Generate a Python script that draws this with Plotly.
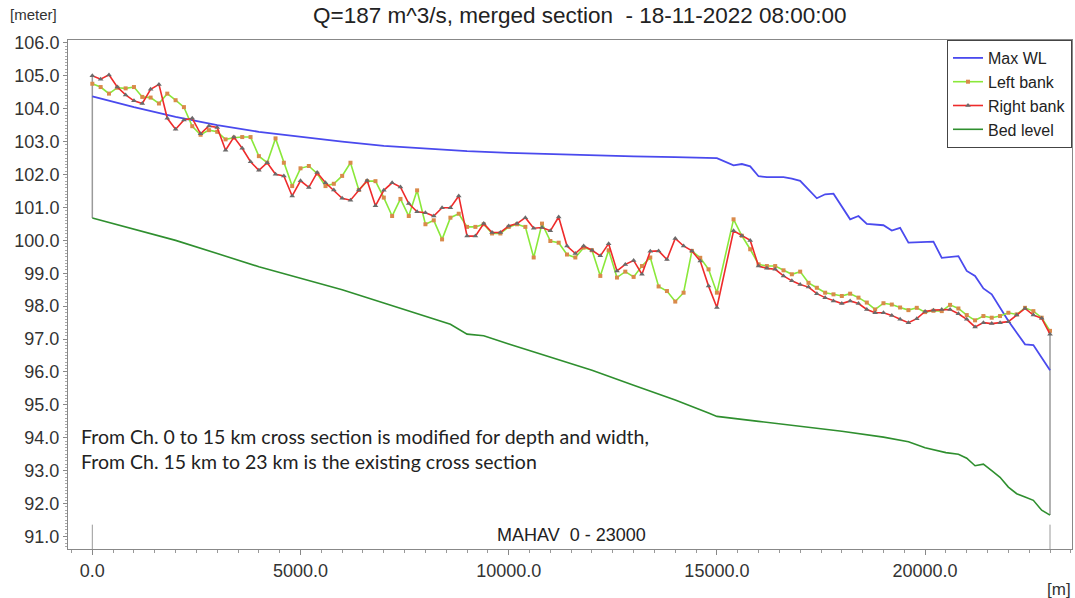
import plotly.graph_objects as go

# ---------------- data ----------------
bank_chainage = [0, 200, 400, 600, 800, 1000, 1200, 1400, 1600, 1800, 2000, 2200, 2400, 2600, 2800,
                 3000, 3200, 3400, 3600, 3800, 4000, 4200, 4400, 4600, 4800, 5000, 5200, 5400, 5600, 5800,
                 6000, 6200, 6400, 6600, 6800, 7000, 7200, 7400, 7600, 7800, 8000, 8200, 8400, 8600, 8800,
                 9000, 9200, 9400, 9600, 9800, 10000, 10200, 10400, 10600, 10800, 11000, 11200, 11400, 11600, 11800,
                 12000, 12200, 12400, 12600, 12800, 13000, 13200, 13400, 13600, 13800, 14000, 14200, 14400, 14600, 14800,
                 15000, 15400, 15600, 15800, 16000, 16200, 16400, 16600, 16800, 17000, 17200, 17400, 17600, 17800,
                 18000, 18200, 18400, 18600, 18800, 19000, 19200, 19400, 19600, 19800, 20000, 20200, 20400, 20600, 20800,
                 21000, 21200, 21400, 21600, 21800, 22000, 22200, 22400, 22600, 22800, 23000]

left_bank = [104.76, 104.66, 104.46, 104.64, 104.62, 104.66, 104.36, 104.34, 104.16, 104.46, 104.26, 104.05, 103.47, 103.21, 103.35,
             103.30, 103.07, 103.12, 103.14, 103.14, 102.56, 102.36, 103.10, 102.36, 101.65, 102.19, 102.26, 102.03, 101.65, 101.72,
             101.96, 102.36, 101.53, 101.80, 101.80, 101.30, 100.74, 101.26, 100.74, 101.52, 100.49, 100.61, 100.03, 100.69, 100.81,
             100.41, 100.41, 100.49, 100.21, 100.21, 100.41, 100.49, 100.41, 99.48, 100.51, 99.98, 99.93, 99.57, 99.48, 99.78,
             99.70, 98.92, 99.70, 98.87, 99.05, 98.89, 99.22, 99.48, 98.60, 98.46, 98.14, 98.41, 99.68, 99.47, 99.12,
             98.41, 100.64, 100.14, 99.73, 99.27, 99.22, 99.22, 99.09, 98.97, 99.05, 98.71, 98.56, 98.41, 98.36,
             98.31, 98.38, 98.26, 98.11, 97.90, 98.09, 98.05, 97.96, 97.88, 97.95, 97.82, 97.86, 97.85, 98.04, 97.93,
             97.73, 97.57, 97.70, 97.65, 97.70, 97.80, 97.75, 97.95, 97.85, 97.65, 97.25]

right_bank = [105.00, 104.90, 105.03, 104.66, 104.42, 104.24, 104.16, 104.59, 104.74, 103.71, 103.38, 103.66, 103.71, 103.24, 103.48,
              103.43, 102.74, 103.14, 102.80, 102.39, 102.13, 102.36, 102.01, 101.96, 101.35, 101.81, 101.61, 102.06, 101.75, 101.53,
              101.28, 101.22, 101.53, 101.82, 101.05, 101.52, 101.75, 101.62, 101.12, 100.87, 100.84, 100.74, 100.99, 100.99, 101.35,
              100.13, 100.13, 100.51, 100.24, 100.24, 100.44, 100.51, 100.69, 100.37, 100.39, 100.29, 100.71, 99.83, 99.60, 99.83,
              99.70, 99.53, 99.90, 99.07, 99.27, 99.39, 98.97, 99.67, 99.68, 99.42, 100.06, 99.83, 99.68, 99.37, 98.61,
              97.96, 100.29, 100.14, 100.00, 99.22, 99.15, 99.12, 98.92, 98.77, 98.66, 98.58, 98.38, 98.26, 98.16,
              98.08, 98.16, 98.08, 97.90, 97.80, 97.80, 97.72, 97.60, 97.50, 97.62, 97.84, 97.88, 97.90, 97.90, 97.77,
              97.60, 97.37, 97.50, 97.47, 97.50, 97.53, 97.73, 97.93, 97.73, 97.63, 97.15]

maxwl_chainage = [0, 1000, 2000, 3000, 4000, 5000, 6000, 7000, 8000, 9000, 10000, 11000, 12000, 13000, 14000,
                  14800, 15000, 15400, 15600, 15800, 16000, 16200, 16600, 16800, 17000, 17400, 17600, 17800,
                  18200, 18400, 18600, 19000, 19200, 19400, 19600, 20200, 20400, 20800, 21000, 21200, 21400,
                  21600, 22000, 22400, 22600, 23000]
max_wl = [104.38, 104.05, 103.75, 103.50, 103.30, 103.14, 103.00, 102.87, 102.78, 102.71, 102.66, 102.62, 102.58, 102.55, 102.53,
          102.52, 102.50, 102.28, 102.32, 102.25, 101.95, 101.92, 101.92, 101.88, 101.81, 101.28, 101.40, 101.42,
          100.64, 100.74, 100.50, 100.46, 100.30, 100.38, 99.93, 99.96, 99.47, 99.52, 99.07, 98.92, 98.54,
          98.36, 97.55, 96.84, 96.82, 96.05]

bed_chainage = [0, 1000, 2000, 3000, 4000, 5000, 6000, 7000, 8000, 8600, 9000, 9400, 10000, 11000, 12000,
                13000, 14000, 14800, 15000, 16000, 17000, 18000, 19000, 19600, 20000, 20500, 20800, 21000, 21200,
                21400, 21600, 21800, 22000, 22200, 22400, 22600, 22800, 23000]
bed_level = [100.68, 100.35, 100.00, 99.60, 99.20, 98.85, 98.50, 98.10, 97.70, 97.45, 97.15, 97.10, 96.85, 96.45, 96.05,
             95.60, 95.15, 94.75, 94.65, 94.50, 94.35, 94.20, 94.02, 93.88, 93.70, 93.55, 93.50, 93.38, 93.15,
             93.20, 93.00, 92.80, 92.50, 92.30, 92.20, 92.10, 91.80, 91.65]

x_ticks = [0, 5000, 10000, 15000, 20000]
branch_name = "MAHAV  0 - 23000"
title_text = "Q=187 m^3/s, merged section  - 18-11-2022 08:00:00"
note_text = ("From Ch. 0 to 15 km cross section is modified for depth and width,<br>"
             "From Ch. 15 km to 23 km is the existing cross section")

# ---------------- layout constants ----------------
Y_RANGE = [90.62, 106.09]
X_RANGE = [-584, 23528]
BRANCH_MARK_TOP = 91.36
FONT = "Liberation Sans, Arial, sans-serif"

fig = go.Figure()

# vertical end lines (gray)
for i in (0, -1):
    fig.add_trace(go.Scatter(x=[bank_chainage[i], bank_chainage[i]], y=[bed_level[i], right_bank[i]],
                             mode="lines", line=dict(color="#9a9a9a", width=1.5),
                             showlegend=False, hoverinfo="skip"))
    fig.add_trace(go.Scatter(x=[bank_chainage[i], bank_chainage[i]], y=[Y_RANGE[0], BRANCH_MARK_TOP],
                             mode="lines", line=dict(color="#9a9a9a", width=1),
                             showlegend=False, hoverinfo="skip"))

fig.add_trace(go.Scatter(x=maxwl_chainage, y=max_wl, mode="lines", name="Max WL",
                         line=dict(color="#4a4aee", width=1.8)))
fig.add_trace(go.Scatter(x=bank_chainage, y=left_bank, mode="lines+markers", name="Left bank",
                         line=dict(color="#8ae83a", width=1.6),
                         marker=dict(symbol="square", size=4, color="#d98a4a")))
fig.add_trace(go.Scatter(x=bank_chainage, y=right_bank, mode="lines+markers", name="Right bank",
                         line=dict(color="#ee2b2b", width=1.6),
                         marker=dict(symbol="triangle-up", size=5, color="#6a6a6a")))
fig.add_trace(go.Scatter(x=bed_chainage, y=bed_level, mode="lines", name="Bed level",
                         line=dict(color="#2f8f2f", width=1.6)))

PL, PR, PT, PB = 68, 3, 40, 49
W, H = 1075, 598
pw, ph = W - PL - PR, H - PT - PB


def px2paper_x(px):
    return (px - PL) / pw


def px2paper_y(py):
    return (H - PB - py) / ph


fig.update_layout(
    width=W, height=H,
    margin=dict(l=PL, r=PR, t=PT, b=PB),
    plot_bgcolor="white", paper_bgcolor="white",
    font=dict(family=FONT, color="#333"),
    legend=dict(x=1, y=1, xanchor="right", yanchor="top", bgcolor="white",
                bordercolor="#444", borderwidth=1, itemwidth=30,
                font=dict(family=FONT, size=16, color="#222")),
    xaxis=dict(range=X_RANGE, tickvals=x_ticks, tickformat=".1f", ticks="outside", ticklen=5,
               tickcolor="#888", showline=True, linecolor="#888", linewidth=1, mirror=True,
               showgrid=False, zeroline=False, tickfont=dict(size=18, color="#333"),
               minor=dict(dtick=500, tick0=0, ticks="outside", ticklen=3, tickcolor="#999")),
    yaxis=dict(range=Y_RANGE, dtick=1, tick0=91, tickformat=".1f", ticks="outside", ticklen=4,
               tickcolor="#888", showline=True, linecolor="#888", linewidth=1, mirror=True,
               showgrid=False, zeroline=False, tickfont=dict(size=18, color="#333"),
               minor=dict(dtick=0.1, tick0=91, ticks="outside", ticklen=2, tickcolor="#aaa")),
)

fig.add_annotation(text=title_text, xref="paper", yref="paper", x=px2paper_x(580), y=px2paper_y(16),
                   xanchor="center", yanchor="middle", showarrow=False,
                   font=dict(family=FONT, size=22.5, color="#222"))
fig.add_annotation(text="[meter]", xref="paper", yref="paper", x=px2paper_x(8), y=px2paper_y(15),
                   xanchor="left", yanchor="middle", showarrow=False,
                   font=dict(size=15, color="#333"))
fig.add_annotation(text="[m]", xref="paper", yref="paper", x=px2paper_x(1059), y=px2paper_y(589),
                   xanchor="center", yanchor="middle", showarrow=False,
                   font=dict(size=17, color="#333"))
fig.add_annotation(text=branch_name, xref="x", yref="paper",
                   x=(bank_chainage[0] + bank_chainage[-1]) / 2, y=px2paper_y(535),
                   xanchor="center", yanchor="middle", showarrow=False,
                   font=dict(size=18, color="#222"))
fig.add_annotation(text=note_text, xref="paper", yref="paper", x=px2paper_x(79), y=px2paper_y(449),
                   xanchor="left", yanchor="middle", align="left", showarrow=False,
                   font=dict(family="Lato, Carlito, sans-serif", size=19.5, color="#222"))

fig.write_html("out.html")
